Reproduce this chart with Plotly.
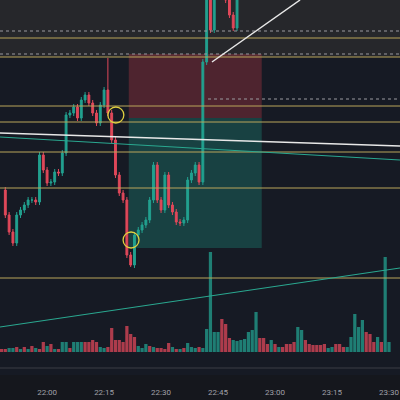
import plotly.graph_objects as go

# candle closes (price units), opens chain from previous close
first_open = 210
closes = [185,168,157,185,190,195,200,200,198,245,230,217,218,228,227,247,285,287,293,282,300,305,297,287,277,295,310,287,260,225,207,200,145,135,165,170,175,180,200,235,200,190,225,195,188,178,177,180,220,227,235,218,338,405,370,440,455,445,400,385,372,410]
highs_extra = {27: 342, 33: 133}
# volume (heights) per minute, and direction (1 up, 0 down)
vol = [3,3,4,4,5,3,5,3,6,4,3,10,6,8,3,3,10,10,4,10,10,10,10,10,12,10,5,4,5,24,12,12,10,26,18,15,6,4,8,6,5,4,4,3,9,5,3,3,4,9,5,4,5,4,23,100,20,20,33,28,14,12,11,12,13,20,22,40,14,14,8,12,8,5,5,8,8,10,25,22,12,8,7,7,7,8,4,5,8,8,5,5,15,38,25,32,20,18,10,15,10,95,10]
vol_up = [0,0,1,1,0,1,0,1,0,1,0,0,1,0,1,0,1,1,0,1,1,1,0,0,0,0,1,1,0,0,0,0,0,0,0,0,1,1,1,0,1,0,0,0,0,1,0,1,0,1,1,1,0,1,1,1,1,1,0,0,0,1,1,1,1,1,1,1,0,0,0,1,0,1,0,0,0,0,1,1,0,0,0,0,0,0,1,1,0,0,0,1,1,1,1,1,0,0,0,1,0,1,1]
hlines = [362, 343, 294, 278, 248, 212, 122]
dotted = [369, 346, 301]
time_ticks = [0, 15, 30, 45, 60, 75, 90]
time_labels = ["22:00", "22:15", "22:30", "22:45", "23:00", "23:15", "23:30"]

GREEN, RED = "#22a08f", "#e0485a"
opens = [first_open] + closes[:-1]
t = [i - 11 for i in range(len(closes))]
highs = [max(o, c) + 3 for o, c in zip(opens, closes)]
lows = [min(o, c) - 3 for o, c in zip(opens, closes)]
for k, v in highs_extra.items():
    if v > highs[k]: highs[k] = v
    else: lows[k] = v

fig = go.Figure()
tv = [i - 12 for i in range(len(vol))]
fig.add_trace(go.Bar(x=tv, y=vol, base=48, marker_color=[GREEN if u else RED for u in vol_up[:len(vol)]],
                     opacity=0.75, marker_line_width=0, width=0.85))
fig.add_trace(go.Candlestick(x=t, open=opens, high=highs, low=lows, close=closes,
                             increasing=dict(line=dict(color=GREEN, width=1), fillcolor=GREEN),
                             decreasing=dict(line=dict(color=RED, width=1), fillcolor=RED),
                             whiskerwidth=0))
shapes = []
shapes.append(dict(type="rect", xref="paper", x0=0, x1=1, y0=343, y1=400, fillcolor="#26272b", line_width=0, layer="below"))
shapes.append(dict(type="rect", x0=21.5, x1=56.5, y0=282, y1=346, fillcolor="rgba(200,60,70,0.32)", line_width=0, layer="below"))
shapes.append(dict(type="rect", x0=21.5, x1=56.5, y0=152, y1=282, fillcolor="rgba(30,150,130,0.32)", line_width=0, layer="below"))
for h in hlines:
    shapes.append(dict(type="line", xref="paper", x0=0, x1=1, y0=h, y1=h, line=dict(color="#b9a55a", width=1)))
for h in dotted:
    shapes.append(dict(type="line", xref="paper", x0=0 if h != 301 else 0.52, x1=1, y0=h, y1=h, line=dict(color="#9a9aa0", width=1, dash="dot")))
shapes.append(dict(type="line", x0=-12.4, x1=92.9, y0=267, y1=254, line=dict(color="#e8e8e8", width=1.5)))
shapes.append(dict(type="line", x0=-12.4, x1=92.9, y0=263, y1=240, line=dict(color="#2aa890", width=1.2)))
shapes.append(dict(type="line", x0=-12.4, x1=92.9, y0=73, y1=132, line=dict(color="#2aa890", width=1.2)))
shapes.append(dict(type="line", x0=43.4, x1=66.6, y0=338, y1=400, line=dict(color="#e8e8e8", width=1.5)))
shapes.append(dict(type="line", xref="paper", x0=0, x1=1, y0=32, y1=32, line=dict(color="#3a3d45", width=1)))
shapes.append(dict(type="circle", x0=16, x1=20.2, y0=277, y1=293, line=dict(color="#e0d040", width=1.3)))
shapes.append(dict(type="circle", x0=20, x1=24.2, y0=152, y1=168, line=dict(color="#e0d040", width=1.3)))

fig.update_layout(width=400, height=400, margin=dict(l=0, r=0, t=0, b=25),
                  paper_bgcolor="#15171d", plot_bgcolor="#161a24", showlegend=False,
                  shapes=shapes, bargap=0.1,
                  xaxis=dict(range=[-12.4, 92.9], rangeslider_visible=False, showgrid=False, zeroline=False,
                             automargin=False,
                             tickvals=time_ticks, ticktext=time_labels, tickfont=dict(color="#a0a0a8", size=8, family="Roboto"),
                             ticks="outside", ticklen=9, tickcolor="rgba(0,0,0,0)"),
                  yaxis=dict(range=[25, 400], visible=False, showgrid=False, zeroline=False, automargin=False))
fig.write_html("out.html", config={"displayModeBar": False},
               post_script="document.body.style.margin='0';document.body.style.overflow='hidden';")
